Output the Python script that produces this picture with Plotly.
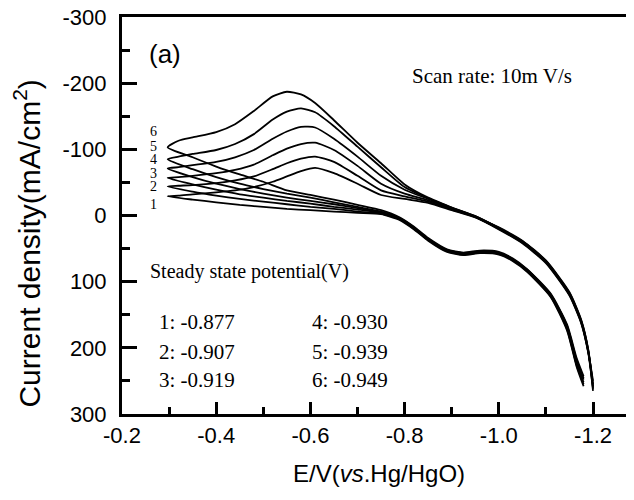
import plotly.graph_objects as go

# potentials (V vs Hg/HgO) for the branch with the anodic peak and for the other branch
E_up = [-0.297, -0.32, -0.35, -0.40, -0.44, -0.48, -0.52, -0.55, -0.58, -0.61, -0.65, -0.70,
        -0.75, -0.80, -0.85, -0.90, -0.95, -1.00, -1.05, -1.10, -1.15, -1.175, -1.19, -1.20]
E_lo = [-0.297, -0.35, -0.40, -0.45, -0.50, -0.55, -0.60, -0.65, -0.70, -0.75, -0.79,
        -0.82, -0.85, -0.89, -0.925, -0.96, -1.00, -1.03, -1.06, -1.11, -1.145, -1.165, -1.18]

# current density (mA/cm2), one list per curve
up1 = [-29, -30, -32, -35, -38, -43, -51, -59, -67, -72, -64, -48, -31, -25, -19, -8, 3, 21, 42, 72, 121, 163, 208, 262]
up2 = [-44, -45, -46, -49, -53, -59, -70, -79, -86, -89, -81, -60, -38, -29, -21, -9, 2, 20, 41, 71, 120, 162, 207, 250]
up3 = [-57, -58, -60, -64, -69, -77, -91, -101, -108, -110, -99, -75, -48, -33, -23, -10, 2, 20, 40, 70, 119, 161, 206, 255]
up4 = [-71, -73, -76, -81, -88, -99, -116, -127, -134, -133, -116, -89, -60, -39, -25, -11, 1, 19, 39, 69, 118, 160, 205, 265]
up5 = [-85, -89, -93, -99, -108, -123, -145, -157, -162, -156, -135, -104, -73, -43, -26, -12, 1, 19, 39, 69, 117, 159, 204, 258]
up6 = [-103, -113, -118, -126, -138, -158, -180, -187, -183, -170, -144, -110, -79, -47, -27, -12, 2, 18, 38, 68, 116, 158, 203, 260]

lo1 = [-29, -24, -20, -16, -13, -10, -8, -6, -4, -2, 7, 21, 38, 55, 60, 57, 59, 69, 85, 123, 174, 228, 258]
lo2 = [-44, -36, -30, -25, -21, -17, -13, -10, -6, -3, 6, 20, 37, 54, 59, 56, 58, 68, 84, 122, 172, 226, 255]
lo3 = [-57, -47, -39, -32, -27, -22, -18, -13, -9, -4, 5, 19, 36, 53, 58, 55, 57, 67, 83, 121, 170, 224, 252]
lo4 = [-71, -58, -48, -40, -33, -27, -22, -17, -11, -5, 5, 19, 36, 53, 58, 55, 57, 67, 82, 120, 168, 220, 248]
lo5 = [-85, -70, -58, -48, -40, -33, -27, -20, -13, -6, 4, 18, 35, 52, 57, 54, 56, 66, 82, 119, 167, 218, 246]
lo6 = [-103, -88, -74, -62, -51, -38, -31, -24, -16, -8, 3, 17, 34, 51, 56, 53, 55, 65, 81, 118, 165, 215, 243]

curve_names = ['1', '2', '3', '4', '5', '6']
ups = [up1, up2, up3, up4, up5, up6]
los = [lo1, lo2, lo3, lo4, lo5, lo6]
label_y = [-17, -44, -64, -84, -104, -127]
label_x = -0.266

steady = ['1: -0.877', '2: -0.907', '3: -0.919', '4: -0.930', '5: -0.939', '6: -0.949']

x_ticks = [-0.2, -0.4, -0.6, -0.8, -1.0, -1.2]
x_text = ['-0.2', '-0.4', '-0.6', '-0.8', '-1.0', '-1.2']
y_ticks = [-300, -200, -100, 0, 100, 200, 300]
y_text = ['-300', '-200', '-100', '0', '100', '200', '300']

fig = go.Figure()

for name, up, lo in zip(curve_names, ups, los):
    xs = E_lo[::-1] + E_up[1:]
    ys = lo[::-1] + up[1:]
    fig.add_trace(go.Scatter(x=xs, y=ys, mode='lines', name=name,
                             line=dict(color='black', width=1.8, shape='spline', smoothing=0.6),
                             showlegend=False))

serif = 'Liberation Serif'
sans = 'Liberation Sans'

ann = []
for name, yy in zip(curve_names, label_y):
    ann.append(dict(x=label_x, y=yy, text=name, showarrow=False, xanchor='center', yanchor='middle',
                    font=dict(family=serif, size=14, color='black')))

ann.append(dict(xref='paper', yref='paper', x=0.049, y=0.907, xanchor='left', yanchor='middle',
                text='(a)', showarrow=False, font=dict(family=sans, size=26, color='black')))
ann.append(dict(xref='paper', yref='paper', x=0.5625, y=0.851, xanchor='left', yanchor='middle',
                text='Scan rate: 10m V/s', showarrow=False,
                font=dict(family=serif, size=21, color='black')))
ann.append(dict(xref='paper', yref='paper', x=0.051, y=0.358, xanchor='left', yanchor='middle',
                text='Steady state potential(V)', showarrow=False,
                font=dict(family=serif, size=20, color='black')))

col_x = [0.068, 0.068, 0.068, 0.367, 0.367, 0.367]
row_y = [0.232, 0.156, 0.086, 0.232, 0.156, 0.086]
for t, cx, ry in zip(steady, col_x, row_y):
    ann.append(dict(xref='paper', yref='paper', x=cx, y=ry, xanchor='left', yanchor='middle',
                    text=t, showarrow=False, font=dict(family=serif, size=21, color='black')))

# axis titles
ann.append(dict(xref='paper', yref='paper', x=0.502, y=-0.151, xanchor='center', yanchor='middle',
                text='E/V(<i>vs</i>.Hg/HgO)', showarrow=False,
                font=dict(family=sans, size=24, color='black')))
ann.append(dict(xref='paper', yref='paper', x=-0.185, y=0.43, xanchor='center', yanchor='middle',
                textangle=-90, text='Current density(mA/cm<sup>2</sup>)', showarrow=False,
                font=dict(family=sans, size=30, color='black')))

# the page body has an 8px margin, so the figure is made 8px smaller and the margins compensate
fig.update_layout(
    width=626, height=492,
    margin=dict(l=114, r=0, t=9, b=86),
    paper_bgcolor='white', plot_bgcolor='white',
    annotations=ann,
    xaxis=dict(range=[-0.2, -1.287], tickmode='array', tickvals=x_ticks, ticktext=x_text,
               ticks='inside', ticklen=12, tickwidth=2.5, tickcolor='black',
               minor=dict(tickmode='linear', dtick=0.1, tick0=-0.3, ticks='inside', ticklen=7,
                          tickwidth=2.5, tickcolor='black'),
               showline=True, linewidth=3, linecolor='black', mirror=True,
               showgrid=False, zeroline=False, automargin=False, ticklabeloverflow='allow',
               tickfont=dict(family=sans, size=22, color='black')),
    yaxis=dict(range=[300, -300], tickmode='array', tickvals=y_ticks, ticktext=y_text,
               ticks='inside', ticklen=15, tickwidth=2.5, tickcolor='black',
               minor=dict(tickmode='linear', dtick=50, tick0=-250, ticks='inside', ticklen=8,
                          tickwidth=2.5, tickcolor='black'),
               showline=True, linewidth=3, linecolor='black',
               showgrid=False, zeroline=False, automargin=False, ticklabelstandoff=8,
               ticklabeloverflow='allow',
               tickfont=dict(family=sans, size=22, color='black')),
)

fig.write_html("out.html")
